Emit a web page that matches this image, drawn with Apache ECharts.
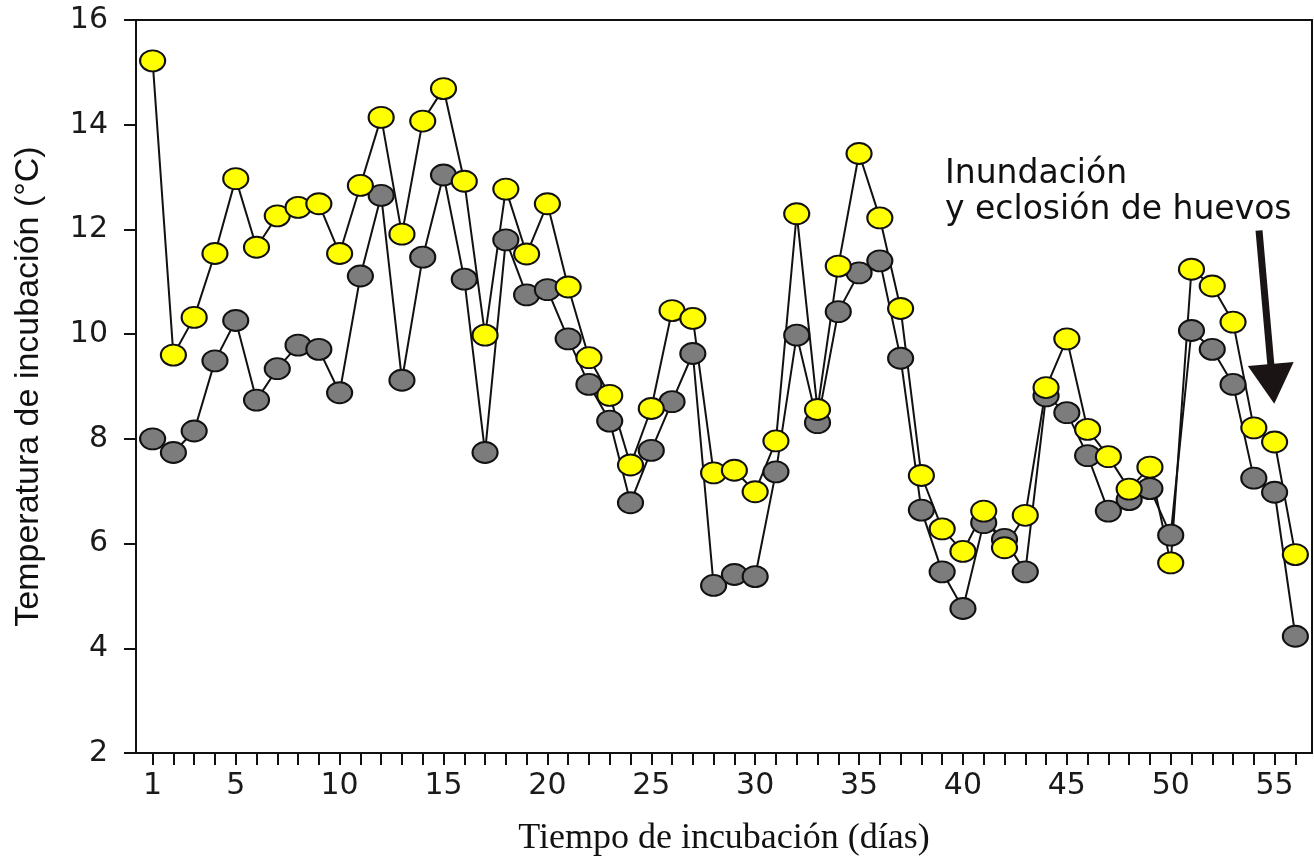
<!DOCTYPE html>
<html>
<head>
<meta charset="utf-8">
<script src="https://cdn.jsdelivr.net/npm/echarts@6/dist/echarts.min.js"></script>
<style>
  html, body { margin: 0; padding: 0; background: #ffffff; }
  #chart { width: 1314px; height: 865px; }
</style>
</head>
<body>
<div id="chart"></div>
<script>
// Days of incubation
const days = [1,2,3,4,5,6,7,8,9,10,11,12,13,14,15,16,17,18,19,20,21,22,23,24,25,26,27,28,29,30,31,32,33,34,35,36,37,38,39,40,41,42,43,44,45,46,47,48,49,50,51,52,53,54,55,56];
// Yellow series (°C)
const serieAmarilla = [15.22,9.60,10.32,11.54,12.97,11.66,12.26,12.42,12.49,11.54,12.84,14.14,11.91,14.07,14.69,12.92,9.98,12.77,11.53,12.49,10.90,9.55,8.83,7.50,8.58,10.45,10.30,7.35,7.40,6.99,7.96,12.30,8.56,11.30,13.45,12.22,10.49,7.30,6.28,5.85,6.62,5.92,6.54,8.98,9.91,8.18,7.66,7.04,7.46,5.63,11.24,10.92,10.23,8.21,7.94,5.79];
// Gray series (°C)
const serieGris = [8.00,7.74,8.15,9.49,10.26,8.74,9.34,9.79,9.71,8.88,11.11,12.65,9.12,11.47,13.04,11.05,7.74,11.80,10.75,10.85,9.91,9.04,8.34,6.78,7.78,8.71,9.63,5.20,5.41,5.37,7.37,9.98,8.31,10.43,11.17,11.40,9.54,6.64,5.46,4.76,6.40,6.08,5.46,8.82,8.50,7.68,6.62,6.84,7.05,6.16,10.07,9.71,9.04,7.25,6.98,4.23];
// Tick labels
const xTickLabels = [1,5,10,15,20,25,30,35,40,45,50,55];
const yTicks = [2,4,6,8,10,12,14,16];
// Annotation arrow (data coordinates: tail, head)
const flechaInicio = [54.25, 11.98];
const flechaFin = [54.9, 9.05];
const anotacion = ['Inundación', 'y eclosión de huevos'];

const pairs = (vals) => days.map((d, i) => [d, vals[i]]);

const chart = echarts.init(document.getElementById('chart'), null, { renderer: 'canvas' });

const sans = '"Liberation Sans", Arial, sans-serif';
const wide = '"DejaVu Sans", sans-serif';
const serif = '"Liberation Serif", "Times New Roman", serif';

chart.setOption({
  backgroundColor: '#ffffff',
  animation: false,
  grid: {
    left: 136, right: 2, top: 20, bottom: 112,
    show: true, borderColor: '#111', borderWidth: 2, containLabel: false
  },
  xAxis: {
    type: 'value',
    min: 0.2, max: 56.8,
    name: 'Tiempo de incubación (días)',
    nameLocation: 'middle',
    nameGap: 68,
    nameTextStyle: { fontFamily: serif, fontSize: 36, color: '#111' },
    axisLine: { show: true, onZero: false, lineStyle: { color: '#111', width: 2 } },
    axisTick: { show: true, inside: false, length: 12, customValues: days, lineStyle: { color: '#111', width: 2 } },
    axisLabel: { show: true, customValues: xTickLabels, margin: 18, fontFamily: wide, fontSize: 30, color: '#1a1a1a', formatter: (v) => String(v) },
    splitLine: { show: false }
  },
  yAxis: {
    type: 'value',
    min: 2, max: 16, interval: 2,
    name: 'Temperatura de incubación (°C)',
    nameLocation: 'middle',
    nameGap: 90,
    nameTextStyle: { fontFamily: sans, fontSize: 34, color: '#111' },
    axisLine: { show: true, onZero: false, lineStyle: { color: '#111', width: 2 } },
    axisTick: { show: true, inside: false, length: 12, lineStyle: { color: '#111', width: 2 } },
    axisLabel: { show: true, margin: 28, fontFamily: wide, fontSize: 30, color: '#1a1a1a', formatter: (v) => yTicks.includes(v) ? String(v) : '' },
    splitLine: { show: false }
  },
  graphic: [
    { type: 'text', left: 945, top: 158, style: { text: anotacion[0], font: '33px ' + wide, fill: '#111' } },
    { type: 'text', left: 945, top: 194, style: { text: anotacion[1], font: '33px ' + wide, fill: '#111' } }
  ],
  series: [
    {
      name: 'gris-linea', type: 'line', data: pairs(serieGris), showSymbol: false, z: 2,
      lineStyle: { color: '#111', width: 2 }, silent: true
    },
    {
      name: 'amarilla-linea', type: 'line', data: pairs(serieAmarilla), showSymbol: false, z: 2,
      lineStyle: { color: '#111', width: 2 }, silent: true,
      markLine: {
        silent: true, symbol: ['none', 'triangle'], symbolSize: [46, 40],
        label: { show: false },
        lineStyle: { color: '#1a1414', width: 7, type: 'solid' },
        data: [[ { coord: flechaInicio }, { coord: flechaFin } ]]
      }
    },
    {
      name: 'gris', type: 'scatter', data: pairs(serieGris), z: 3,
      symbol: 'circle', symbolSize: [25, 21],
      itemStyle: { color: '#7c7c7c', borderColor: '#111', borderWidth: 2, opacity: 1 }
    },
    {
      name: 'amarilla', type: 'scatter', data: pairs(serieAmarilla), z: 4,
      symbol: 'circle', symbolSize: [25, 21],
      itemStyle: { color: '#ffff00', borderColor: '#111', borderWidth: 2, opacity: 1 }
    }
  ]
});
</script>
</body>
</html>
